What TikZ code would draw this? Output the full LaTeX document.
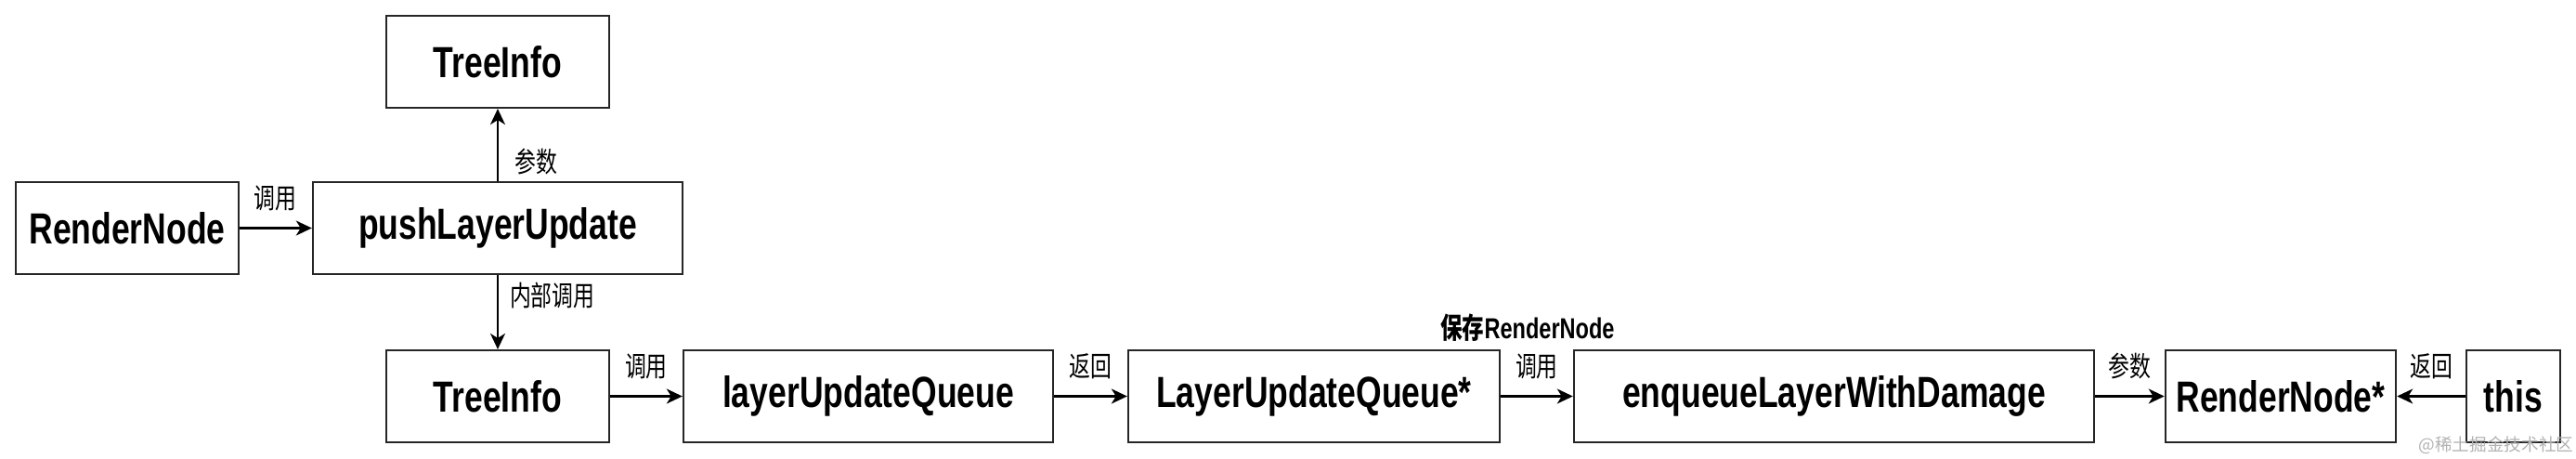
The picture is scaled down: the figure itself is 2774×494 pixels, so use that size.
\documentclass[tikz,border=0pt]{standalone}
\usepackage{fontspec}
\usepackage{graphicx}
\setmainfont{Liberation Sans}
\newfontfamily\cjk{Noto Sans CJK SC}
\usetikzlibrary{arrows.meta}
\newcommand{\tall}[1]{\scalebox{1}[1.32]{#1}}

\begin{document}
\begin{tikzpicture}[x=0.01cm, y=-0.01cm,
	box/.style={draw=black!85, line width=0.6pt, minimum height=0.99cm,
		font=\bfseries\fontsize{10.1}{12}\selectfont},
	lbl/.style={font=\cjk\fontsize{6.5}{7.5}\selectfont, inner sep=1pt},
	link/.style={line width=0.6pt,
		-{Stealth[length=0.17cm, width=0.16cm, inset=0.05cm]}}]
	\useasboundingbox (0,0) rectangle (2774,494);
	\node [box, minimum width=2.39cm] (1) at (137,245.5) 
		{\tall{RenderNode}};
	\node [box, minimum width=3.98cm] (2) at (536,245.5) 
		{\tall{pushLayerUpdate}};
	\node [box, minimum width=2.4cm] (3) at (536,66.5) 
		{\tall{TreeInfo}};
	\node [box, minimum width=2.4cm] (4) at (536,426.5) 
		{\tall{TreeInfo}};
	\node [box, minimum width=3.98cm] (5) at (935,426.5) 
		{\tall{layerUpdateQueue}};
	\node [box, minimum width=4cm] (6) at (1415,426.5) 
		{\tall{LayerUpdateQueue*}};
	\node [box, minimum width=5.6cm] (7) at (1975,426.5) 
		{\tall{enqueueLayerWithDamage}};
	\node [box, minimum width=2.4cm] (8) at (2456,426.5) 
		{\tall{RenderNode*}};
	\node [box, minimum width=1.01cm] (9) at (2706.5,426.5) 
		{\tall{this}};
	\draw [link] (1) to 
		node [lbl, above=4pt] {\tall{调用}} 
		(2);
	\draw [link] (2) to 
		node [lbl, pos=0.27, right=4pt] {\tall{参数}} 
		(3);
	\draw [link] (2) to 
		node [lbl, pos=0.27, right=2.4pt] {\tall{内部调用}} 
		(4);
	\draw [link] (4) to 
		node [lbl, above=4pt] {\tall{调用}} 
		(5);
	\draw [link] (5) to 
		node [lbl, above=4pt] {\tall{返回}} 
		(6);
	\draw [link] (6) to 
		node [lbl, above=4pt] {\tall{调用}} 
		node [lbl, font=\bfseries\fontsize{6.7}{7.5}\selectfont, above=15.4pt, xshift=-0.1cm] 
			{\tall{{\cjk 保存}RenderNode}} 
		(7);
	\draw [link] (7) to 
		node [lbl, above=4pt] {\tall{参数}} 
		(8);
	\draw [link] (9) to 
		node [lbl, above=4pt] {\tall{返回}} 
		(8);
	\node [font=\cjk\fontsize{5.3}{6}\selectfont, text=black!30, inner sep=0pt] 
		(10) at (2688,479) {@稀土掘金技术社区};
\end{tikzpicture}
\end{document}
